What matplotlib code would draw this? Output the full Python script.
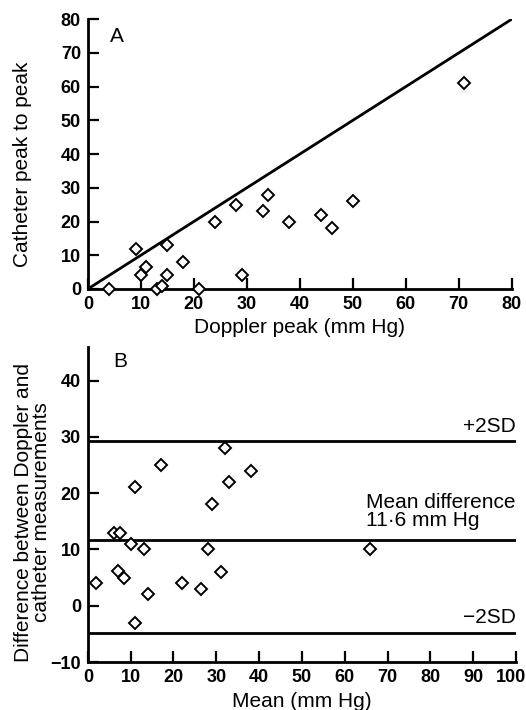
import matplotlib
matplotlib.use("Agg")
import matplotlib.pyplot as plt
from matplotlib.transforms import offset_copy

# panel A: Doppler peak vs catheter peak to peak
doppler_peak = [4, 9, 10, 11, 13, 14, 15, 15, 18, 21, 24, 28, 29, 33, 34, 38, 44, 46, 50, 71]
catheter_peak = [0, 12, 4, 6.5, 0, 1, 13, 4, 8, 0, 20, 25, 4, 23, 28, 20, 22, 18, 26, 61]

# panel B: Bland-Altman
mean_vals = [2, 6.2, 7.5, 7, 8.5, 10, 11, 11, 13, 14, 17, 22, 26.5, 28, 29, 31, 32, 33, 38, 66]
diff_vals = [4, 13, 13, 6.2, 5, 11, 21, -3, 10, 2, 25, 4, 3, 10, 18, 6, 28, 22, 24, 10]
mean_diff = 11.6
upper_sd = 29.2
lower_sd = -4.9

plt.rcParams['font.family'] = ['Liberation Sans', 'DejaVu Sans']

fig = plt.figure(figsize=(5.26, 7.1), dpi=100)
axA = fig.add_axes([0.167, 0.593, 0.806, 0.380])
axB = fig.add_axes([0.167, 0.0676, 0.814, 0.444])

mk = dict(marker='D', ms=5.8, mfc='white', mec='black', mew=1.4, ls='none', clip_on=False, zorder=3)

for ax in (axA, axB):
    for s in ('top', 'right'):
        ax.spines[s].set_visible(False)
    for s in ('left', 'bottom'):
        ax.spines[s].set_linewidth(2)
    ax.tick_params(direction='in', length=8, width=1.6, labelsize=13, pad=5)

# A
axA.plot([0, 80], [0, 80], color='black', lw=2, zorder=2)
axA.plot(doppler_peak, catheter_peak, **mk)
axA.set_xlim(0, 80)
axA.set_ylim(0, 80)
axA.set_xticks(range(0, 81, 10))
axA.set_yticks(range(0, 81, 10))
axA.set_xlabel('Doppler peak (mm Hg)', fontsize=15, labelpad=4)
axA.set_ylabel('Catheter peak to peak', fontsize=15)
axA.yaxis.set_label_coords(-0.132, 0.463)
axA.text(5.5, 75, 'A', fontsize=15, va='center', ha='center')

# B
for yv in (upper_sd, mean_diff, lower_sd):
    axB.plot([0, 100], [yv, yv], color='black', lw=2, zorder=2)
axB.plot(mean_vals, diff_vals, **mk)
axB.set_xlim(0, 100)
axB.set_ylim(-10, 46)
axB.set_xticks(range(0, 101, 10))
axB.set_yticks(range(-10, 41, 10))
axB.set_yticklabels(['\u221210', '0', '10', '20', '30', '40'])
axB.set_xlabel('Mean (mm Hg)', fontsize=15, labelpad=4)
axB.set_ylabel('Difference between Doppler and\ncatheter measurements', fontsize=15, linespacing=0.95)
axB.yaxis.set_label_coords(-0.086, 0.475)
axB.text(7.5, 43.4, 'B', fontsize=15, va='center', ha='center')
axB.text(100, 31.8, '+2SD', fontsize=15, ha='right', va='center')
axB.text(100, -2.1, '\u22122SD', fontsize=15, ha='right', va='center')
axB.text(65, 16.7, 'Mean difference\n11\u00b76 mm Hg', fontsize=15, ha='left', va='center', linespacing=0.95)

for lab in axA.get_xticklabels() + axA.get_yticklabels() + axB.get_xticklabels() + axB.get_yticklabels():
    lab.set_fontweight('bold')

# keep the "100" label inside the figure
last = axB.get_xticklabels()[-1]
last.set_transform(offset_copy(last.get_transform(), fig=fig, x=-5, y=0, units='dots'))

fig.savefig('out.png', dpi=100)
